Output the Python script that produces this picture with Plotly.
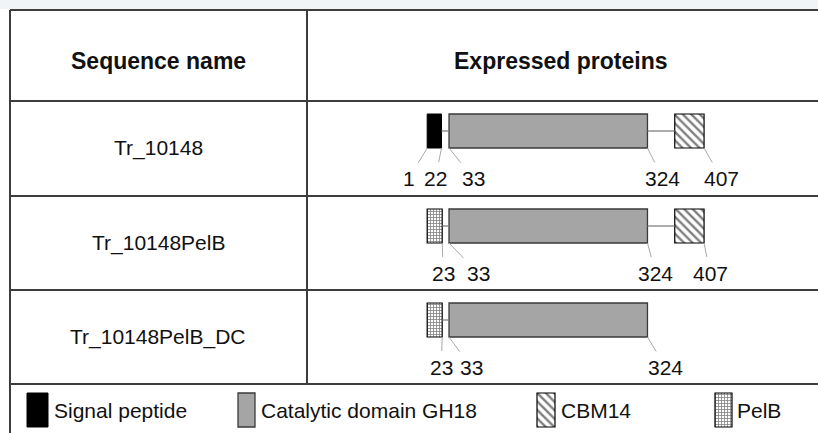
import plotly.graph_objects as go

# ---------------- data ----------------
constructs = ["Tr_10148", "Tr_10148PelB", "Tr_10148PelB_DC"]
header_labels = ["Sequence name", "Expressed proteins"]
# domain spans in amino-acid positions (start, end); None = absent
signal_span = [(1, 22), None, None]
pelb_span = [None, (1, 23), (1, 23)]
catalytic_span = [(33, 324), (33, 324), (33, 324)]
cbm14_span = [(364, 407), (364, 407), None]
position_labels = [[1, 22, 33, 324, 407], [23, 33, 324, 407], [23, 33, 324]]
legend_names = ["Signal peptide", "Catalytic domain GH18", "CBM14", "PelB"]

# ---------------- layout constants ----------------
W, H = 818, 433
FONT = "Liberation Sans, Arial, sans-serif"
LINE_COL = "#3d3d3d"
TOP, HEAD_BOTTOM = 10, 101
ROW_TOPS = [101, 196, 290]
TABLE_BOTTOM = 384
LEFT, DIVIDER = 10, 307
BOX_OFF, BOX_H = 30, 34
LABEL_OFF = 77
# aa -> pixel scale of the schematic axis: px = A + B * aa
A, B = 426.5, 0.682
# pixel offsets of the number labels from their boundary points
label_dx = [[-18, -6, 24, 15, 17], [1, 29, 8, 6], [-1, 22, 18]]

styles = {
    "Signal peptide": dict(color="black", line=dict(color="black", width=1)),
    "Catalytic domain GH18": dict(color="#a5a5a5", line=dict(color="#3a3a3a", width=1.3)),
    "CBM14": dict(color="white", line=dict(color="black", width=1.2),
                  pattern=dict(shape="\\", fgcolor="black", bgcolor="white", size=6, solidity=0.4)),
    "PelB": dict(color="white", line=dict(color="black", width=1.2),
                 pattern=dict(shape="+", fgcolor="black", bgcolor="white", size=3, solidity=0.45)),
}
spans_by_name = {
    "Signal peptide": signal_span,
    "Catalytic domain GH18": catalytic_span,
    "CBM14": cbm14_span,
    "PelB": pelb_span,
}

fig = go.Figure()
centers = [t + BOX_OFF for t in ROW_TOPS]

# connector lines in the gaps between domains
cx, cy = [], []
for i in range(len(constructs)):
    doms = sorted([s[i] for s in spans_by_name.values() if s[i] is not None])
    for (s0, e0), (s1, e1) in zip(doms[:-1], doms[1:]):
        cx += [e0, s1, None]
        cy += [centers[i], centers[i], None]
fig.add_trace(go.Scatter(x=cx, y=cy, mode="lines", line=dict(color="#777777", width=1.2),
                         hoverinfo="skip", showlegend=False))

# domain boxes
for name, spans in spans_by_name.items():
    ys, bases, lens = [], [], []
    for i, sp in enumerate(spans):
        if sp is None:
            continue
        ys.append(centers[i])
        bases.append(sp[0])
        lens.append(sp[1] - sp[0])
    fig.add_trace(go.Bar(orientation="h", y=ys, x=lens, base=bases, width=BOX_H,
                         marker=styles[name], showlegend=False, hoverinfo="skip"))

# legend keys (pixel x axis)
leg_box_x = [(27, 48), (238, 255), (537, 555), (715, 732)]
leg_text_x = [52, 259, 559, 735]
LEG_C = 410
for name, (x0, x1) in zip(legend_names, leg_box_x):
    fig.add_trace(go.Bar(orientation="h", y=[LEG_C], x=[x1 - x0], base=[x0], width=BOX_H,
                         marker=styles[name], showlegend=False, hoverinfo="skip",
                         xaxis="x2"))

annotations = []
# number labels with leader lines
for i, labs in enumerate(position_labels):
    pt_y = centers[i] + BOX_H / 2
    ay = (ROW_TOPS[i] + LABEL_OFF) - pt_y
    for j, lab in enumerate(labs):
        annotations.append(dict(
            x=lab, y=pt_y, xref="x", yref="y", text=str(lab), showarrow=True,
            ax=label_dx[i][j], ay=ay, arrowhead=0, arrowwidth=1, arrowcolor="#a8a8a8",
            startstandoff=3, standoff=0,
            font=dict(family=FONT, size=21, color="#111111")))

# headers
for txt, xc in zip(header_labels, [158, 560]):
    annotations.append(dict(x=xc / W, y=61, xref="paper", yref="y", text="<b>%s</b>" % txt,
                            xanchor="center", yanchor="middle", showarrow=False,
                            font=dict(family=FONT, size=23, color="#111111")))
# construct names
for i, nm in enumerate(constructs):
    annotations.append(dict(x=158 / W, y=ROW_TOPS[i] + 47, xref="paper", yref="y", text=nm,
                            xanchor="center", yanchor="middle", showarrow=False,
                            font=dict(family=FONT, size=21, color="#111111")))
# legend texts
for nm, tx in zip(legend_names, leg_text_x):
    annotations.append(dict(x=tx / W, y=LEG_C, xref="paper", yref="y", text=nm,
                            xanchor="left", yanchor="middle", showarrow=False,
                            font=dict(family=FONT, size=21, color="#111111")))

shapes = [dict(type="rect", xref="paper", yref="y", x0=0, x1=1, y0=0, y1=TOP - 1,
               fillcolor="#f1f4f7", line=dict(width=0), layer="below")]
for yl in [TOP, HEAD_BOTTOM, ROW_TOPS[1], ROW_TOPS[2], TABLE_BOTTOM]:
    shapes.append(dict(type="line", xref="paper", yref="y", x0=LEFT / W, x1=1, y0=yl, y1=yl,
                       line=dict(color=LINE_COL, width=2)))
shapes.append(dict(type="line", xref="paper", yref="y", x0=LEFT / W, x1=LEFT / W, y0=TOP, y1=H,
                   line=dict(color=LINE_COL, width=2)))
shapes.append(dict(type="line", xref="paper", yref="y", x0=DIVIDER / W, x1=DIVIDER / W,
                   y0=TOP, y1=TABLE_BOTTOM, line=dict(color=LINE_COL, width=2)))

fig.update_layout(
    width=W, height=H, margin=dict(l=0, r=0, t=0, b=0),
    paper_bgcolor="white", plot_bgcolor="white",
    barmode="overlay", showlegend=False,
    xaxis=dict(range=[(0 - A) / B, (W - A) / B], visible=False, fixedrange=True),
    xaxis2=dict(range=[0, W], visible=False, overlaying="x", fixedrange=True),
    yaxis=dict(range=[H, 0], visible=False, fixedrange=True),
    annotations=annotations, shapes=shapes,
)

fig.write_html("out.html", config={"displayModeBar": False},
               post_script="document.body.style.margin='0';document.body.style.overflow='hidden';")
